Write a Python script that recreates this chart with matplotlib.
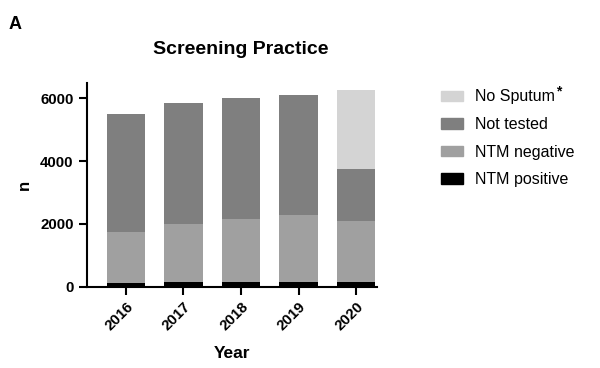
import matplotlib
matplotlib.use("Agg")
from matplotlib import pyplot as plt
from matplotlib.patches import Patch
import numpy as np

plt.rcParams['font.family'] = ['Liberation Sans', 'DejaVu Sans']

years = ['2016', '2017', '2018', '2019', '2020']
ntm_pos = [110, 160, 160, 160, 160]
ntm_neg = [1640, 1840, 2000, 2140, 1940]
not_tested = [3750, 3850, 3840, 3800, 1650]
no_sputum = [0, 0, 0, 0, 2530]

series = [
	("NTM positive", ntm_pos, '#000000'),
	("NTM negative", ntm_neg, '#a0a0a0'),
	("Not tested", not_tested, '#7f7f7f'),
	("No Sputum", no_sputum, '#d4d4d4'),
]

fig = plt.figure(figsize=(6, 3.68), dpi=100)
ax = fig.add_axes([0.1445, 0.221, 0.4835, 0.554])

x = np.arange(len(years))
bottom = np.zeros(len(years))
for name, vals, col in series:
	ax.bar(x, vals, 0.67, bottom=bottom, color=col, edgecolor='none')
	bottom += np.array(vals)

ax.set_xlim(-0.68, 4.36)
ax.set_ylim(0, 6500)
ax.set_yticks([0, 2000, 4000, 6000])
ax.set_xticks(x)
ax.set_xticklabels(years, rotation=45, ha='right', rotation_mode='anchor')
for lab in ax.get_xticklabels() + ax.get_yticklabels():
	lab.set_fontweight('bold')
	lab.set_fontsize(10.8)
ax.tick_params(width=1.5, length=6, color='black')
for s in ['top', 'right']:
	ax.spines[s].set_visible(False)
for s in ['left', 'bottom']:
	ax.spines[s].set_linewidth(1.5)

ax.set_ylabel('n', fontweight='bold', fontsize=12, labelpad=6)
ax.set_xlabel('Year', fontweight='bold', fontsize=12.5, labelpad=9)
fig.text(0.402, 0.865, 'Screening Practice', fontweight='bold', fontsize=14,
	ha='center', va='center')
fig.text(0.015, 0.92, 'A', fontweight='bold', fontsize=13)

handles = [Patch(color=c, label=n) for n, v, c in series[::-1]]
leg = fig.legend(handles=handles, loc='upper left', bbox_to_anchor=(0.711, 0.796),
	frameon=False, fontsize=11.5, handlelength=1.4, handleheight=0.65,
	labelspacing=0.79, handletextpad=0.75)

# asterisk after "No Sputum"
fig.canvas.draw()
bb = leg.get_texts()[0].get_window_extent().transformed(fig.transFigure.inverted())
fig.text(bb.x1 + 0.002, bb.y1 - 0.005, '*', fontweight='bold', fontsize=10,
	va='center', ha='left')

fig.savefig('out.png', dpi=100)
